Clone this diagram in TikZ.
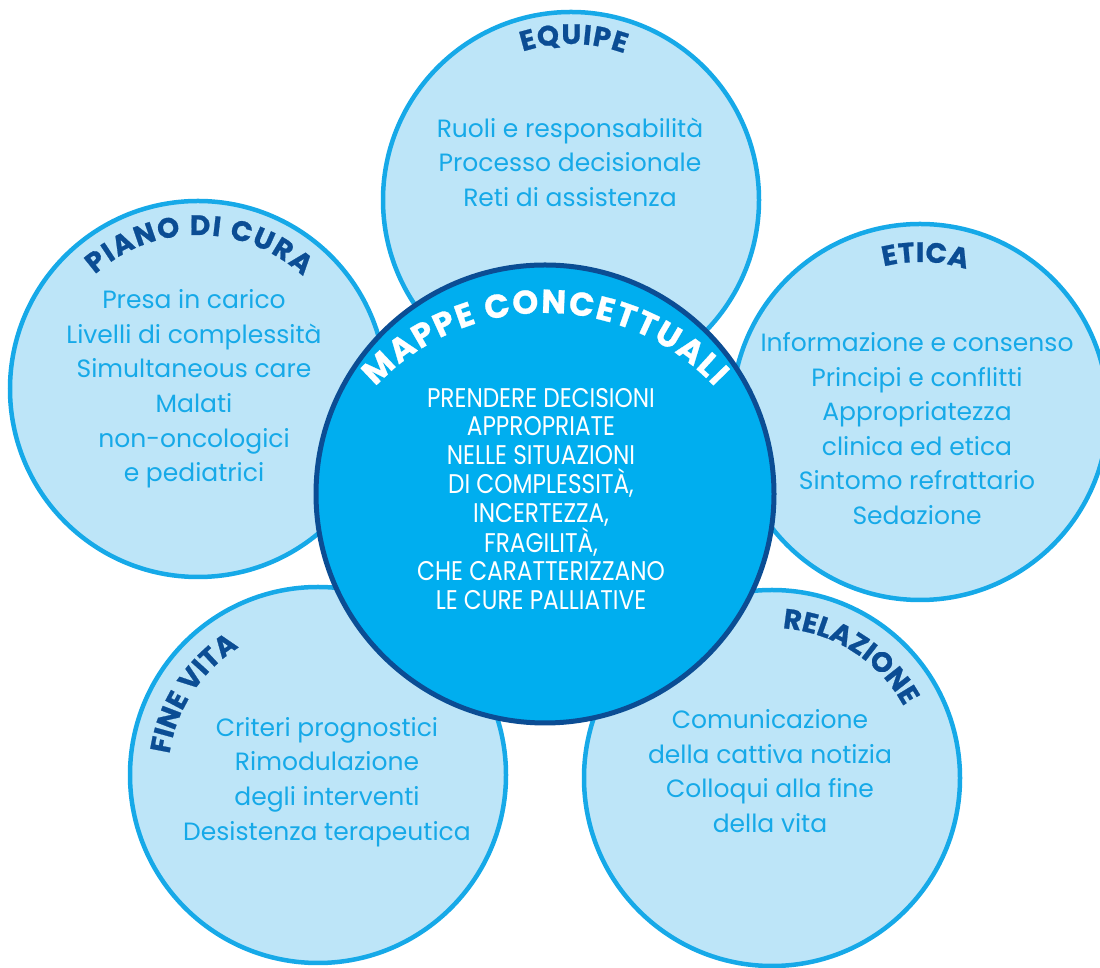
\documentclass[tikz,border=0pt]{standalone}
\usepackage{fontspec}
\setmainfont{Poppins}
\newfontfamily\capsfont{Poppins}[FakeStretch=0.86]
\newfontfamily\titlefont{Poppins}[FakeBold=0.8]
\usetikzlibrary{decorations.text}

\definecolor{petalfill}{HTML}{BDE5F8}
\definecolor{petalline}{HTML}{16A9E8}
\definecolor{hubfill}{HTML}{00AEEF}
\definecolor{navy}{HTML}{0B4D94}

\tikzset{
  petal/.style={circle, draw=petalline, line width=4.5pt, fill=petalfill, minimum size=376pt, inner sep=0pt},
  hub/.style={circle, draw=navy, line width=5pt, fill=hubfill, minimum size=458pt, inner sep=0pt},
  petaltext/.style={text=petalline, align=center, font=\fontsize{25}{34.6}\selectfont},
  hubtext/.style={text=white, align=center, font=\capsfont\fontsize{27}{28.8}\selectfont},
  arctitle/.style={decorate, decoration={text along path, text align=fit to path, text color=navy,
      text={|\titlefont\fontsize{28}{32}\selectfont\bfseries|#1}}},
  hubtitle/.style={decorate, decoration={text along path, text align=fit to path, text color=white,
      text={|\titlefont\fontsize{33}{38}\selectfont\bfseries|#1}}},
}

\begin{document}
\begin{tikzpicture}[x=1pt, y=1pt]
  \useasboundingbox (0,0) rectangle (1100,968);

  % Outer circles
  \node[petal] (equipe) at (571,768) {};
  \node[petal] (piano) at (198,579) {};
  \node[petal] (etica) at (920,556) {};
  \node[petal] (finevita) at (318,193) {};
  \node[petal] (relazione) at (772,190) {};

  % Central circle on top
  \node[hub] (mappe) at (545,474) {};
  \coordinate (mappearc) at (545,423);

  % Titles along the arcs
  \path[arctitle=EQUIPE] ([shift={(108:156)}]equipe.center) arc[start angle=108, end angle=70, radius=156];
  \path[arctitle=PIANO DI CURA] ([shift={(132:154)}]piano.center) arc[start angle=132, end angle=47, radius=154];
  \path[arctitle=ETICA] ([shift={(104:150)}]etica.center) arc[start angle=104, end angle=72, radius=150];
  \path[arctitle=FINE VITA] ([shift={(172:150)}]finevita.center) arc[start angle=172, end angle=122, radius=150];
  \path[arctitle=RELAZIONE] ([shift={(86:150)}]relazione.center) arc[start angle=86, end angle=29, radius=150];
  \path[hubtitle=MAPPE CONCETTUALI] ([shift={(137:232)}]mappearc) arc[start angle=137, end angle=43, radius=232];

  % Texts
  \node[petaltext] (equipetext) at (570,806) {Ruoli e responsabilità\\Processo decisionale\\Reti di assistenza};
  \node[petaltext] (pianotext) at (194,579) {Presa in carico\\Livelli di complessità\\Simultaneous care\\Malati\\non-oncologici\\e pediatrici};
  \node[petaltext] (eticatext) at (917,539.5) {Informazione e consenso\\Principi e conflitti\\Appropriatezza\\clinica ed etica\\Sintomo refrattario\\Sedazione};
  \node[petaltext] (finevitatext) at (327,186) {Criteri prognostici\\Rimodulazione\\degli interventi\\Desistenza terapeutica};
  \node[petaltext] (relazionetext) at (770,197) {Comunicazione\\della cattiva notizia\\Colloqui alla fine\\della vita};
  \node[hubtext] (mappetext) at (541,469) {PRENDERE DECISIONI\\APPROPRIATE\\NELLE SITUAZIONI\\DI COMPLESSITÀ,\\INCERTEZZA,\\FRAGILITÀ,\\CHE CARATTERIZZANO\\LE CURE PALLIATIVE};
\end{tikzpicture}
\end{document}
